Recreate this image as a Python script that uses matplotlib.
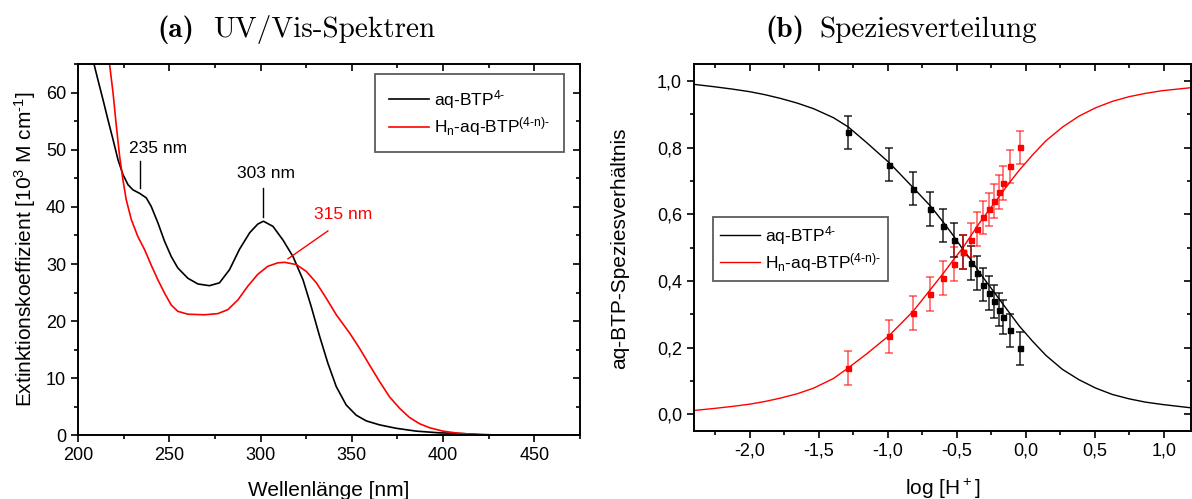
import numpy as np
import matplotlib
matplotlib.use('Agg')
import matplotlib.pyplot as plt
from matplotlib.ticker import MultipleLocator, FuncFormatter

plt.rcParams['font.family'] = ['Liberation Sans', 'DejaVu Sans']
plt.rcParams['mathtext.fontset'] = 'custom'
plt.rcParams['mathtext.rm'] = 'Liberation Sans'
plt.rcParams['mathtext.default'] = 'regular'

# (a) UV/Vis spectra
wl_black = [208.8, 210.9, 213.7, 216.4, 219.2, 221.9, 224.6, 227.4, 230.1, 233.7,
            237.4, 240.1, 243.8, 247.4, 251.1, 254.7, 260.2, 265.7, 272.0, 277.5,
            283.0, 288.5, 294.1, 298.5, 301.6, 306.8, 312.3, 317.8, 323.3, 327.8,
            332.4, 336.9, 341.5, 346.9, 352.4, 357.9, 365.2, 374.3, 385.3, 398.0,
            409.0, 420.0, 435.0, 450.0]
eps_black = [65.0, 62.3, 58.8, 55.3, 51.8, 48.3, 45.7, 43.9, 43.0, 42.4,
             41.6, 40.1, 37.2, 34.0, 31.3, 29.3, 27.5, 26.5, 26.2, 26.7,
             29.0, 32.6, 35.5, 37.0, 37.5, 36.6, 34.2, 31.3, 27.2, 22.5,
             17.3, 12.6, 8.5, 5.3, 3.5, 2.5, 1.8, 1.2, 0.7, 0.4,
             0.3, 0.1, 0.0, 0.0]

wl_red = [217.3, 219.2, 221.0, 222.8, 224.6, 226.4, 229.2, 232.8, 236.5, 240.1,
          243.8, 247.4, 251.1, 254.7, 260.2, 269.3, 276.6, 282.1, 287.6, 293.0,
          298.5, 304.0, 309.4, 313.2, 319.6, 325.1, 330.6, 336.0, 341.5, 348.8,
          354.3, 359.7, 365.2, 370.7, 376.2, 381.6, 387.1, 392.6, 399.9, 409.0,
          420.0, 430.0, 450.0]
eps_red = [65.0, 60.0, 54.2, 48.9, 44.8, 41.3, 37.8, 34.8, 32.5, 29.8,
           27.2, 24.9, 22.8, 21.7, 21.2, 21.1, 21.3, 22.0, 23.7, 26.1,
           28.2, 29.6, 30.2, 30.3, 29.9, 28.7, 26.7, 24.0, 21.1, 17.9,
           15.2, 12.3, 9.4, 6.7, 4.7, 3.1, 2.0, 1.3, 0.7, 0.3,
           0.1, 0.0, 0.0]

# peak labels: text, text position, line start, line end
peak_labels = ['235 nm', '303 nm', '315 nm']
peak_text_xy = [(243.8, 50.2), (303.0, 45.8), (345.3, 38.6)]
peak_line_from = [(234.1, 48.0), (301.6, 43.3), (336.9, 35.8)]
peak_line_to = [(234.1, 43.3), (301.6, 38.3), (315.0, 30.9)]
peak_colors = ['black', 'black', 'red']

# (b) species distribution
logH = [-1.290, -0.993, -0.818, -0.692, -0.600, -0.523, -0.458, -0.400,
        -0.351, -0.307, -0.266, -0.231, -0.198, -0.168, -0.116, -0.045]
frac_black = [0.846, 0.749, 0.677, 0.616, 0.566, 0.523, 0.487, 0.454,
              0.424, 0.389, 0.364, 0.339, 0.314, 0.292, 0.252, 0.198]
frac_red = [0.139, 0.234, 0.304, 0.361, 0.409, 0.451, 0.487, 0.523,
            0.556, 0.591, 0.615, 0.640, 0.667, 0.694, 0.744, 0.801]
frac_err = 0.05

fit_x = [-2.404, -2.260, -2.130, -2.000, -1.890, -1.779, -1.658, -1.538, -1.394,
         -1.286, -1.153, -0.990, -0.816, -0.691, -0.595, -0.523, -0.456, -0.400,
         -0.335, -0.263, -0.191, -0.119, -0.047, 0.050, 0.146, 0.266, 0.386,
         0.507, 0.627, 0.747, 0.867, 0.988, 1.195]
fit_black = [0.990, 0.983, 0.976, 0.968, 0.959, 0.948, 0.934, 0.917, 0.890,
             0.862, 0.815, 0.755, 0.680, 0.625, 0.575, 0.535, 0.495, 0.465,
             0.425, 0.385, 0.345, 0.305, 0.265, 0.219, 0.177, 0.135, 0.104,
             0.079, 0.060, 0.047, 0.037, 0.030, 0.020]
fit_red = [0.012, 0.018, 0.024, 0.031, 0.039, 0.049, 0.062, 0.079, 0.108,
           0.140, 0.182, 0.237, 0.310, 0.375, 0.425, 0.465, 0.500, 0.535,
           0.575, 0.615, 0.655, 0.695, 0.733, 0.779, 0.821, 0.862, 0.895,
           0.920, 0.939, 0.953, 0.963, 0.971, 0.980]

legend_labels = ['aq-BTP$^{4\u2010}$', 'H$_n$-aq-BTP$^{(4\u2010n)\u2010}$']

fig = plt.figure(figsize=(11.92, 4.99), dpi=100)
ax1 = fig.add_axes([0.06544, 0.128, 0.4211, 0.743])
ax2 = fig.add_axes([0.582, 0.136, 0.4175, 0.735])


def style_axis(ax, xmaj, xmin, ymaj, ymin):
    for s in ax.spines.values():
        s.set_linewidth(1.4)
    ax.xaxis.set_major_locator(MultipleLocator(xmaj))
    ax.xaxis.set_minor_locator(MultipleLocator(xmin))
    ax.yaxis.set_major_locator(MultipleLocator(ymaj))
    ax.yaxis.set_minor_locator(MultipleLocator(ymin))
    ax.tick_params(which='both', direction='out', width=1.2, labelsize=13)
    ax.tick_params(which='major', length=5)
    ax.tick_params(which='minor', length=3)
    # inward ticks on top and right
    sec = ax.secondary_xaxis('top')
    secy = ax.secondary_yaxis('right')
    sec.xaxis.set_major_locator(MultipleLocator(xmaj))
    sec.xaxis.set_minor_locator(MultipleLocator(xmin))
    secy.yaxis.set_major_locator(MultipleLocator(ymaj))
    secy.yaxis.set_minor_locator(MultipleLocator(ymin))
    for a in (sec, secy):
        a.tick_params(which='both', direction='in', width=1.2,
                      labeltop=False, labelright=False)
        a.tick_params(which='major', length=5)
        a.tick_params(which='minor', length=3)
        for s in a.spines.values():
            s.set_visible(False)


# ---- (a)
ax1.plot(wl_black, eps_black, color='black', lw=1.2, label=legend_labels[0])
ax1.plot(wl_red, eps_red, color='red', lw=1.2, label=legend_labels[1])
for lab, txy, p0, p1, c in zip(peak_labels, peak_text_xy, peak_line_from,
                               peak_line_to, peak_colors):
    ax1.text(txy[0], txy[1], lab, color=c, fontsize=12.5, ha='center', va='center')
    ax1.plot([p0[0], p1[0]], [p0[1], p1[1]], color=c, lw=1.0)
ax1.set_xlim(200, 475)
ax1.set_ylim(0, 65)
style_axis(ax1, 50, 25, 10, 5)
ax1.yaxis.set_major_formatter(FuncFormatter(lambda v, p: '%d' % v if v <= 60 else ''))
ax1.set_xlabel('Wellenlänge [nm]', fontsize=15, labelpad=12)
ax1.set_ylabel('Extinktionskoeffizient [10$^3$ M cm$^{\u20101}$]', fontsize=15, labelpad=6)
leg1 = ax1.legend(loc='upper left', bbox_to_anchor=(0.5916, 0.973), fontsize=12.5,
                  frameon=True, fancybox=False, handlelength=2.3, borderpad=0.8,
                  labelspacing=0.25, handletextpad=0.3, borderaxespad=0)
leg1.get_frame().set_edgecolor('#333333')
leg1.get_frame().set_linewidth(1.3)

# ---- (b)
comma = FuncFormatter(lambda v, p: ('%.1f' % v).replace('.', ',').replace('-0,0', '0,0'))
ax2.plot(fit_x, fit_black, color='black', lw=1.0, label=legend_labels[0])
ax2.plot(fit_x, fit_red, color='red', lw=1.0, label=legend_labels[1])
ax2.errorbar(logH, frac_black, yerr=frac_err, fmt='s', color='black', ms=3.6,
             ecolor=(0, 0, 0, 0.8), elinewidth=1.2, capsize=3, capthick=1.2)
ax2.errorbar(logH, frac_red, yerr=frac_err, fmt='s', color='red', ms=3.6,
             ecolor=(1, 0, 0, 0.6), elinewidth=1.2, capsize=3, capthick=1.2)
ax2.set_xlim(-2.407, 1.2)
ax2.set_ylim(-0.05, 1.05)
style_axis(ax2, 0.5, 0.25, 0.2, 0.1)
ax2.xaxis.set_major_formatter(comma)
ax2.yaxis.set_major_formatter(comma)
ax2.set_xlabel('log [H$^+$]', fontsize=15, labelpad=12)
ax2.set_ylabel('aq-BTP-Speziesverhältnis', fontsize=15, labelpad=20)
h, l = ax2.get_legend_handles_labels()
leg2 = ax2.legend(h[:2], l[:2], loc='upper left', bbox_to_anchor=(0.038, 0.584),
                  fontsize=12.5, frameon=True, fancybox=False, handlelength=2.3,
                  borderpad=0.4, labelspacing=0.25, handletextpad=0.3,
                  borderaxespad=0)
leg2.get_frame().set_edgecolor('#333333')
leg2.get_frame().set_linewidth(1.3)

# titles in a Computer Modern look
ty = 1 - 37 / 499
fig.text(157 / 1192, ty, '(a)', fontfamily='cmb10', fontsize=21, ha='left', va='baseline')
fig.text(213 / 1192, ty, 'UV/Vis-Spektren', fontfamily='cmr10', fontsize=21, ha='left', va='baseline')
fig.text(765 / 1192, ty, '(b)', fontfamily='cmb10', fontsize=21, ha='left', va='baseline')
fig.text(819 / 1192, ty, 'Speziesverteilung', fontfamily='cmr10', fontsize=21, ha='left', va='baseline')

fig.savefig('out.png', dpi=100)
